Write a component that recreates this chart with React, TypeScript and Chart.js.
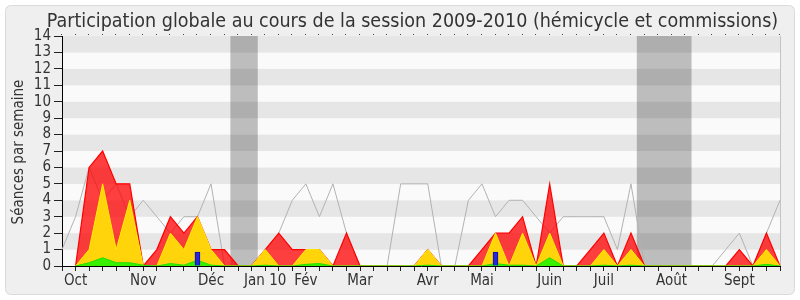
import React, { useEffect, useRef } from 'react';
import { Chart, registerables } from 'chart.js';

Chart.register(...registerables);

// One entry per week (Oct 2009 -> Sept 2010); month names where a month starts
const weekLabels: string[] = [
  '', 'Oct', '', '', '', '', 'Nov', '', '', '', '', 'Déc', '', '', '',
  'Jan 10', '', '', 'Fév', '', '', '', 'Mar', '', '', '', '', 'Avr', '', '', '',
  'Mai', '', '', '', '', 'Juin', '', '', '', 'Juil', '', '', '', '', 'Août', '', '', '', '',
  'Sept', '', '', '',
];

// Présences (rouge)
const presences: (number | null)[] = [
  null, 0, 6, 7, 5, 5, 0, 1, 3, 2, 3, 1, 1, 0, 0,
  1, 2, 1, 1, 1, 0, 2, 0, 0, 0, 0, 0, 1, 0, 0, 0,
  1, 2, 2, 3, 0, 5, 0, 0, 1, 2, 0, 2, 0, 0, 0, 0, 0, 0, 0,
  1, 0, 2, 0,
];

// Participations (jaune)
const participations: (number | null)[] = [
  null, 0, 1, 5, 1, 4, 0, 0, 2, 1, 3, 1, 0, 0, 0,
  1, 0, 0, 1, 1, 0, 0, 0, 0, 0, 0, 0, 1, 0, 0, 0,
  0, 2, 0, 2, 0, 2, 0, 0, 0, 1, 0, 1, 0, 0, 0, 0, 0, 0, 0,
  0, 0, 1, 0,
];

// Interventions (vert)
const interventions: (number | null)[] = [
  null, 0, 0.2, 0.5, 0.2, 0.2, 0.05, 0, 0.15, 0.05, 0.35, 0.05, 0, 0, 0,
  0.05, 0, 0, 0.1, 0.15, 0, 0, 0, 0, 0, 0, 0, 0.05, 0, 0, 0,
  0, 0.15, 0.05, 0.05, 0, 0.5, 0, 0, 0, 0.05, 0, 0.05, 0, 0, 0, 0, 0, 0, 0,
  0, 0, 0.1, 0,
];

// Questions orales (bleu)
const questions: (number | null)[] = [
  null, null, null, null, null, null, null, null, null, null, 0.85, null, null, null, null,
  null, null, null, null, null, null, null, null, null, null, null, null, null, null, null, null,
  null, 0.85, null, null, null, null, null, null, null, null, null, null, null, null, null, null, null, null, null,
  null, null, null, null,
];

// Présence médiane des députés (gris)
const mediane: number[] = [
  1, 3, 6, 4, 5, 3, 4, 3, 2, 3, 3, 5, 0, 0, 0,
  1, 2, 4, 5, 3, 5, 2, 0, 0, 0, 5, 5, 5, 0, 0, 4,
  5, 3, 4, 4, 3, 2, 3, 3, 3, 3, 1, 5, 0, 0, 0, 0, 0, 0, 1,
  2, 0, 2, 4,
];

// Vacances parlementaires (in week-index units)
const vacancesDebut: number[] = [12.43, 42.43];
const vacancesFin: number[] = [14.45, 46.47];

const yMax = 14;
const FONT = '"DejaVu Sans Condensed", "DejaVu Sans", sans-serif';
const TITLE = 'Participation globale au cours de la session 2009-2010 (hémicycle et commissions)';
const YTITLE = 'Séances par semaine';

const decorPlugin = {
  id: 'decor',
  beforeDraw(chart: any) {
    const { ctx, chartArea, scales } = chart;
    const W = chart.width;
    const H = chart.height;
    ctx.save();
    ctx.fillStyle = '#ffffff';
    ctx.fillRect(0, 0, W, H);
    // frame
    const fx = 5.5, fy = 5.5, fw = 789, fh = 289, r = 6;
    ctx.beginPath();
    ctx.moveTo(fx + r, fy);
    ctx.lineTo(fx + fw - r, fy);
    ctx.quadraticCurveTo(fx + fw, fy, fx + fw, fy + r);
    ctx.lineTo(fx + fw, fy + fh - r);
    ctx.quadraticCurveTo(fx + fw, fy + fh, fx + fw - r, fy + fh);
    ctx.lineTo(fx + r, fy + fh);
    ctx.quadraticCurveTo(fx, fy + fh, fx, fy + fh - r);
    ctx.lineTo(fx, fy + r);
    ctx.quadraticCurveTo(fx, fy, fx + r, fy);
    ctx.closePath();
    ctx.fillStyle = '#efefef';
    ctx.fill();
    ctx.strokeStyle = '#dadada';
    ctx.lineWidth = 1;
    ctx.stroke();

    // bands
    const y = scales.y;
    const x = scales.x;
    for (let n = 0; n < yMax; n++) {
      const top = y.getPixelForValue(n + 1);
      const bot = y.getPixelForValue(n);
      ctx.fillStyle = n % 2 === 1 ? '#e6e6e6' : '#fafafa';
      ctx.fillRect(chartArea.left, top, chartArea.right - chartArea.left, bot - top);
    }
    // holidays
    ctx.fillStyle = 'rgba(0,0,0,0.245)';
    for (let k = 0; k < vacancesDebut.length; k++) {
      const x0 = x.getPixelForValue(vacancesDebut[k]);
      const x1 = x.getPixelForValue(vacancesFin[k]);
      ctx.fillRect(x0, chartArea.top, x1 - x0, chartArea.bottom - chartArea.top);
    }
    // right border
    ctx.strokeStyle = '#c4c4c4';
    ctx.beginPath();
    ctx.moveTo(chartArea.right + 0.5, chartArea.top);
    ctx.lineTo(chartArea.right + 0.5, chartArea.bottom);
    ctx.stroke();
    // top dotted ticks
    ctx.fillStyle = '#444';
    for (let i = 0; i < weekLabels.length; i++) {
      const px = Math.round(x.getPixelForValue(i));
      ctx.fillRect(px - 1, chartArea.top - 2, 1, 1);
    }
    // title
    ctx.fillStyle = '#333';
    ctx.font = `19.5px ${FONT}`;
    ctx.textAlign = 'center';
    ctx.textBaseline = 'alphabetic';
    ctx.fillText(TITLE, 412.5, 27);
    // y title
    ctx.translate(23, 152);
    ctx.rotate(-Math.PI / 2);
    ctx.font = `15px ${FONT}`;
    ctx.fillText(YTITLE, 0, 0);
    ctx.restore();
  },
};

export default function App() {
  const ref = useRef<HTMLCanvasElement | null>(null);
  useEffect(() => {
    if (!ref.current) return;
    const chart = new Chart(ref.current, {
      type: 'line',
      data: {
        labels: weekLabels,
        datasets: [
          {
            type: 'bar',
            label: 'Questions orales',
            data: questions,
            backgroundColor: '#2626e0',
            borderColor: '#10109a',
            borderWidth: 1,
            barThickness: 5,
            order: 0,
          } as any,
          {
            label: 'Interventions',
            data: interventions,
            fill: 'origin',
            backgroundColor: '#38f000',
            borderColor: '#22dd00',
            borderWidth: 1,
            pointRadius: 0,
            tension: 0,
            order: 1,
          },
          {
            label: 'Participations',
            data: participations,
            fill: 'origin',
            backgroundColor: 'rgb(255,212,10)',
            borderColor: '#ffee00',
            borderWidth: 1,
            pointRadius: 0,
            tension: 0,
            order: 2,
          },
          {
            label: 'Présences',
            data: presences,
            fill: 'origin',
            backgroundColor: 'rgba(255,0,0,0.75)',
            borderColor: '#ff0000',
            borderWidth: 1.2,
            pointRadius: 0,
            tension: 0,
            order: 3,
          },
          {
            label: 'Présence médiane',
            data: mediane,
            fill: false,
            borderColor: '#b2b2b2',
            borderWidth: 1,
            pointRadius: 0,
            tension: 0,
            order: 4,
          },
        ],
      },
      options: {
        animation: false,
        responsive: false,
        devicePixelRatio: 1,
        layout: { padding: { top: 36, right: 20, left: 0, bottom: 0 } },
        plugins: { legend: { display: false }, tooltip: { enabled: false }, title: { display: false } },
        scales: {
          x: {
            type: 'category',
            offset: false,
            grid: { offset: false, drawOnChartArea: false, drawTicks: true, tickLength: 5, color: '#222' },
            border: { display: true, color: '#000', width: 1 },
            ticks: {
              autoSkip: false,
              maxRotation: 0,
              minRotation: 0,
              padding: 1,
              color: '#333',
              font: { family: FONT, size: 15 },
              callback: (_v: any, i: number) => weekLabels[i],
            },
            afterFit: (s: any) => { s.height = 34; },
          },
          y: {
            min: 0,
            max: yMax,
            grid: { drawOnChartArea: false, drawTicks: true, tickLength: 8, color: '#222' },
            border: { display: true, color: '#000', width: 1 },
            ticks: { stepSize: 1, autoSkip: false, padding: 3, color: '#333', font: { family: FONT, size: 15 } },
            afterFit: (s: any) => { s.width = 62; },
          },
        },
      },
      plugins: [decorPlugin],
    });
    return () => chart.destroy();
  }, []);
  return (
    <div style={{ position: 'absolute', left: 0, top: 0, width: 800, height: 300 }}>
      <canvas ref={ref} width={800} height={300} style={{ display: 'block', width: 800, height: 300 }} />
    </div>
  );
}
